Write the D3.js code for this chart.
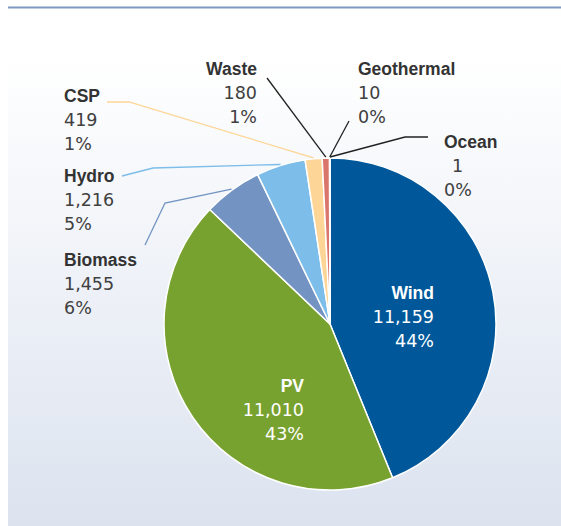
<!DOCTYPE html>
<html>
<head>
<meta charset="utf-8">
<script src="https://cdn.jsdelivr.net/npm/d3@7"></script>
<style>
  html, body { margin: 0; padding: 0; background: #fff; }
  svg { display: block; }
  .name { font-family: "Liberation Sans", Arial, sans-serif; font-weight: bold; font-size: 17.5px; }
  .num { font-family: "DejaVu Sans", sans-serif; font-size: 17.5px; }
</style>
</head>
<body>
<div id="chart"></div>
<script>
  // capacity by technology (MW)
  const categories = ['Wind', 'PV', 'Biomass', 'Hydro', 'CSP', 'Waste', 'Geothermal', 'Ocean'];
  const capacity = [11159, 11010, 1455, 1216, 419, 180, 10, 1];
  const capacityText = ['11,159', '11,010', '1,455', '1,216', '419', '180', '10', '1'];
  const shares = ['44%', '43%', '6%', '5%', '1%', '1%', '0%', '0%'];
  const colors = ['#00589a', '#78a22f', '#7394c2', '#7cbde9', '#fdd596', '#d9756b', '#d9756b', '#00589a'];

  // where each label sits, and the bend of its leader line
  const labelPos = {
    Wind:       { x: 434, y: 299, anchor: 'end', inside: true },
    PV:         { x: 304, y: 392, anchor: 'end', inside: true },
    Biomass:    { x: 64,  y: 266, anchor: 'start', leader: [[145, 245], [165, 203]], lineColor: '#7394c2' },
    Hydro:      { x: 64,  y: 182, anchor: 'start', leader: [[122, 176], [153, 168]], lineColor: '#7cbde9' },
    CSP:        { x: 64,  y: 102, anchor: 'start', leader: [[107, 102], [129, 102]], lineColor: '#fdd596' },
    Waste:      { x: 257, y: 75,  anchor: 'end', leader: [[267, 78]], lineColor: '#222' },
    Geothermal: { x: 358, y: 75,  anchor: 'start', leader: [[349, 121]], lineColor: '#222' },
    Ocean:      { x: 444, y: 148, anchor: 'start', leader: [[428, 137], [405, 137]], lineColor: '#222', numDx: 8 }
  };

  const width = 561, height = 526;
  const cx = 330, cy = 324, radius = 166;

  const svg = d3.select('#chart').append('svg')
    .attr('width', width)
    .attr('height', height);

  const defs = svg.append('defs');
  const grad = defs.append('linearGradient')
    .attr('id', 'bg')
    .attr('x1', 0).attr('y1', 0).attr('x2', 0).attr('y2', 1);
  grad.append('stop').attr('offset', '0%').attr('stop-color', '#ffffff');
  grad.append('stop').attr('offset', '100%').attr('stop-color', '#dce3ef');

  svg.append('rect')
    .attr('x', 8).attr('y', 57)
    .attr('width', width - 8).attr('height', height - 57)
    .attr('fill', 'url(#bg)');

  svg.append('line')
    .attr('x1', 8).attr('x2', width)
    .attr('y1', 7.5).attr('y2', 7.5)
    .attr('stroke', '#7d99c0')
    .attr('stroke-width', 2);

  const data = categories.map((c, i) => ({
    name: c, value: capacity[i], text: capacityText[i], share: shares[i], color: colors[i]
  }));

  const pie = d3.pie().sort(null).value(d => d.value);
  const arcs = pie(data);
  const arc = d3.arc().innerRadius(0).outerRadius(radius);

  const g = svg.append('g').attr('transform', `translate(${cx},${cy})`);

  g.selectAll('path')
    .data(arcs)
    .join('path')
    .attr('d', arc)
    .attr('fill', d => d.data.color)
    .attr('stroke', '#fff')
    .attr('stroke-width', 1.5)
    .attr('stroke-linejoin', 'round');

  // leader lines: from label bend to the slice edge
  const edgePoint = (a, r) => {
    const mid = (a.startAngle + a.endAngle) / 2;
    return [cx + r * Math.sin(mid), cy - r * Math.cos(mid)];
  };

  arcs.forEach(a => {
    const lp = labelPos[a.data.name];
    if (!lp.leader) return;
    const pts = lp.leader.concat([edgePoint(a, radius + 1)]);
    svg.append('path')
      .attr('d', d3.line()(pts))
      .attr('fill', 'none')
      .attr('stroke', lp.lineColor)
      .attr('stroke-width', 1.3);
  });

  // labels
  arcs.forEach(a => {
    const lp = labelPos[a.data.name];
    const fill = lp.inside ? '#ffffff' : '#404040';
    const t = svg.append('g');
    t.append('text')
      .attr('class', 'name')
      .attr('x', lp.x).attr('y', lp.y)
      .attr('text-anchor', lp.anchor)
      .attr('fill', lp.inside ? '#ffffff' : '#333333')
      .text(a.data.name);
    t.append('text')
      .attr('class', 'num')
      .attr('x', lp.x + (lp.numDx || 0)).attr('y', lp.y + 24)
      .attr('text-anchor', lp.anchor)
      .attr('fill', fill)
      .text(a.data.text);
    t.append('text')
      .attr('class', 'num')
      .attr('x', lp.x).attr('y', lp.y + 48)
      .attr('text-anchor', lp.anchor)
      .attr('fill', fill)
      .text(a.data.share);
  });
</script>
</body>
</html>
